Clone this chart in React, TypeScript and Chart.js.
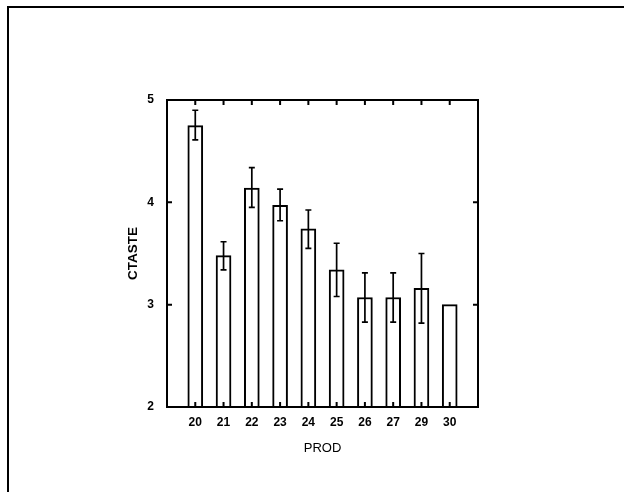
import React, { useEffect, useRef } from 'react';
import { Chart, registerables } from 'chart.js';

Chart.register(...registerables);

const categories = ['20', '21', '22', '23', '24', '25', '26', '27', '29', '30'];
const means = [4.75, 3.48, 4.14, 3.97, 3.74, 3.34, 3.07, 3.07, 3.16, 3.0];
const errHigh: (number | null)[] = [4.9, 3.615, 4.34, 4.13, 3.925, 3.6, 3.31, 3.31, 3.5, null];
const errLow: (number | null)[] = [4.61, 3.34, 3.95, 3.82, 3.55, 3.08, 2.83, 2.83, 2.82, null];
const yMin = 2;
const yMax = 5;
const yTickValues = [2, 3, 4, 5];

const FONT = '"Liberation Sans", Arial, Helvetica, sans-serif';

const framePlugin = {
  id: 'framePlugin',
  afterDatasetsDraw(chart: any) {
    const { ctx } = chart;
    const xs = chart.scales.x;
    const ys = chart.scales.y;
    ctx.save();
    ctx.strokeStyle = '#000';
    ctx.lineWidth = 1.7;
    for (let i = 0; i < means.length; i++) {
      const hi = errHigh[i];
      const lo = errLow[i];
      if (hi == null || lo == null) continue;
      const x = xs.getPixelForValue(i);
      const yh = ys.getPixelForValue(hi);
      const yl = ys.getPixelForValue(lo);
      ctx.beginPath();
      ctx.moveTo(x, yh);
      ctx.lineTo(x, yl);
      ctx.moveTo(x - 3, yh);
      ctx.lineTo(x + 3, yh);
      ctx.moveTo(x - 3, yl);
      ctx.lineTo(x + 3, yl);
      ctx.stroke();
    }
    ctx.restore();
  },
  afterDraw(chart: any) {
    const { ctx, chartArea } = chart;
    const { left, right, top, bottom } = chartArea;
    const xs = chart.scales.x;
    const ys = chart.scales.y;
    ctx.save();
    ctx.strokeStyle = '#000';
    ctx.lineWidth = 2;
    ctx.strokeRect(left, top, right - left, bottom - top);
    const tl = 5;
    ctx.beginPath();
    for (let i = 0; i < categories.length; i++) {
      const x = xs.getPixelForValue(i);
      ctx.moveTo(x, top);
      ctx.lineTo(x, top + tl);
      ctx.moveTo(x, bottom);
      ctx.lineTo(x, bottom - tl);
    }
    for (const v of yTickValues) {
      const y = ys.getPixelForValue(v);
      ctx.moveTo(left, y);
      ctx.lineTo(left + tl, y);
      ctx.moveTo(right, y);
      ctx.lineTo(right - tl, y);
    }
    ctx.stroke();
    // outer page frame
    ctx.beginPath();
    ctx.moveTo(8, chart.height);
    ctx.lineTo(8, 7);
    ctx.lineTo(chart.width, 7);
    ctx.stroke();
    ctx.restore();
  },
};

export default function App() {
  const canvasRef = useRef<HTMLCanvasElement | null>(null);

  useEffect(() => {
    const canvas = canvasRef.current;
    if (!canvas) return;
    const chart = new Chart(canvas, {
      type: 'bar',
      data: {
        datasets: [
          {
            data: means.map((v, i) => ({ x: i, y: v })),
            backgroundColor: '#ffffff',
            borderColor: '#000000',
            borderWidth: 2,
            borderSkipped: false,
            barThickness: 15,
          },
        ],
      },
      options: {
        animation: false,
        responsive: false,
        maintainAspectRatio: false,
        layout: { padding: { top: 100, right: 146, left: 0, bottom: 0 } },
        plugins: {
          legend: { display: false },
          tooltip: { enabled: false },
        },
        scales: {
          x: {
            type: 'linear',
            offset: false,
            min: -1,
            max: categories.length,
            grid: { display: false, drawTicks: false, offset: false },
            border: { display: false },
            ticks: {
              stepSize: 1,
              autoSkip: false,
              maxRotation: 0,
              padding: 8,
              color: '#000',
              font: { family: FONT, size: 12, weight: 'bold' },
              callback: (v: any) => {
                const n = Number(v);
                return Number.isInteger(n) && n >= 0 && n < categories.length ? categories[n] : '';
              },
            },
            title: {
              display: true,
              text: 'PROD',
              color: '#000',
              font: { family: FONT, size: 13 },
              padding: { top: 0, bottom: 36 },
            },
            afterFit: (s: any) => {
              s.height = 85;
            },
          },
          y: {
            type: 'linear',
            min: yMin,
            max: yMax,
            grid: { display: false, drawTicks: false },
            border: { display: false },
            ticks: {
              stepSize: 1,
              padding: 13,
              color: '#000',
              font: { family: FONT, size: 12, weight: 'bold' },
            },
            title: {
              display: true,
              text: 'CTASTE',
              color: '#000',
              font: { family: FONT, size: 13.5, weight: 'bold' },
              padding: { top: 125, bottom: 0 },
            },
            afterFit: (s: any) => {
              s.width = 167;
            },
          },
        },
      },
      plugins: [framePlugin],
    });
    return () => chart.destroy();
  }, []);

  return (
    <div style={{ position: 'fixed', left: 0, top: 0, width: 624, height: 492, background: '#fff' }}>
      <canvas ref={canvasRef} width={624} height={492} style={{ display: 'block' }} />
    </div>
  );
}
